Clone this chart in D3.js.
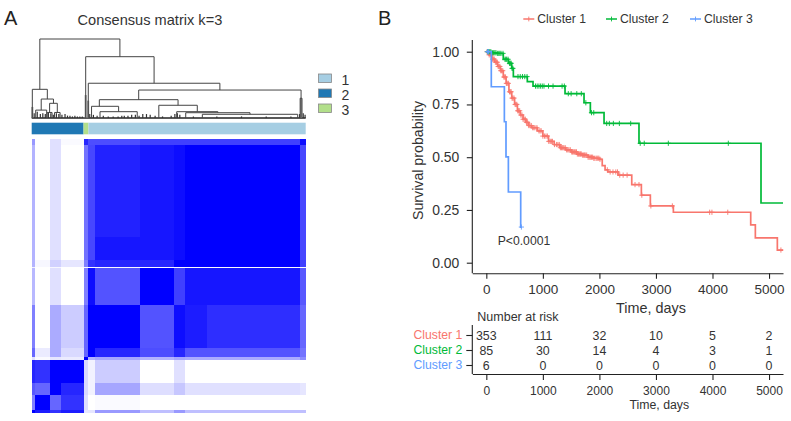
<!DOCTYPE html>
<html><head><meta charset="utf-8">
<script src="https://cdn.jsdelivr.net/npm/d3@7/dist/d3.min.js"></script>
<style>html,body{margin:0;padding:0;background:#fff}svg{display:block}text{font-family:"Liberation Sans",Arial,sans-serif;fill:#333}</style>
</head><body><svg id="c" width="791" height="421"></svg>
<script>
// ---- Consensus matrix data (sample ranks, consensus values) ----
const nSamples = 444;
const colEdges = [0,5,30,47,84,92,103,176,231,248,284,435,444];
const rowEdges = [0,10,159,196,208,210,269,339,354,358,396,415,440,444];
const consensus = [
 [.4,0,.12,.02,.85,.7,.7,.75,.75,.75,.75,.95],
 [.3,0,.12,0,.55,.72,.86,.93,.97,1,1,.72],
 [.3,0,.12,0,.55,.72,.92,.93,.97,1,1,.72],
 [.3,.03,.18,.1,.5,.8,.85,.85,1,1,1,.75],
 [.05,0,.03,0,.02,.02,.02,.02,.02,.02,.02,.02],
 [.28,0,.12,0,.5,.95,.68,1,.75,.93,.93,.65],
 [.5,0,.33,.2,.6,1,1,.68,.95,.9,.82,.6],
 [.6,.08,.33,.15,.6,1,.85,.7,.85,.68,.68,.55],
 [.12,.02,.1,.08,1,.3,.35,.3,.35,.33,.33,.45],
 [.85,.8,1,1,.15,.05,.2,0,.12,0,0,0],
 [.65,.6,1,.85,.15,.05,.35,.13,.22,.12,.12,.1],
 [.5,1,.6,.8,.12,0,.02,0,0,0,0,0],
 [1,.9,.8,.9,.1,.1,.4,.25,.4,.25,.25,.25]
];
const annotationEdges = [0,84,92,444];
const annotationClass = ["2","3","1"];
const legendClasses = ["1","2","3"];
const classColors = ["#a6cee3","#1f78b4","#b2df8a"];
// dendrogram: [height, left, right, optional drawn rank]; a number is a leaf rank
const dendrogram = [1,
  [.363, 1,
    [.24,
      [.10, 6.5, 24.3],
      [.186, [.07, 25, 33], [.07, 37, 46]]]],
  [.776, 87.5,
    [.44, 91.7,
      [.354,
        [.232,
          [.148, 97, [.08, 110.7, 171], 109.6],
          [.161, 206,
            [.08, 235,
              [.067, 249.6,
                [.047, 276.5, 431]]]]],
        [.25, 435, 438]]]]];
const lowRanks =  [4,9,14,18,22,27,31,35,40,44,49,54,58,62,66,70,74,78,82,94,100,106,116,124,132,140,146,150,156,162,168,174,180,186,192,200,212,226,232,236,240,262,300,340,380,420,434,440,443];
const lowHeights =[.06,.08,.05,.06,.05,.07,.06,.04,.06,.05,.04,.05,.03,.03,.02,.03,.02,.02,.02,.05,.04,.03,.03,.02,.02,.02,.03,.03,.03,.04,.04,.03,.05,.05,.04,.03,.02,.03,.05,.06,.04,.02,.02,.02,.02,.02,.05,.06,.04];
const denseRanks = [1,87.5,91.5,436.5];
const denseHeights = [.14,.29,.22,.25];
// ---- Survival data ----
const c1T = [0,50,100,150,200,250,300,350,400,450,500,550,600,650,700,750,800,900,1000,1100,1200,1300,1400,1500,1600,1700,1800,1900,2000,2050,2100,2150,2330,2572,2742,2901,3308,4676,4758,5147];
const c1S = [1,.985,.965,.95,.93,.91,.88,.85,.81,.78,.75,.72,.70,.68,.665,.65,.64,.625,.60,.575,.56,.545,.535,.525,.515,.51,.50,.495,.49,.46,.44,.43,.415,.37,.32,.269,.239,.179,.118,.06];
const c2T = [0,100,184,300,390,449,478,725,826,1392,1728,1840,2082,2700,4858];
const c2S = [1,.995,.992,.964,.945,.921,.882,.858,.837,.801,.758,.711,.66,.566,.283];
const c3T = [0,88,319,348,390,608];
const c3S = [1,.834,.668,.502,.335,.169];
const seriesEnd = [5247,5247,625];
const c1Censor = [15,30,50,70,90,110,125,140,160,180,195,210,225,240,255,270,290,310,325,340,355,370,390,410,425,440,455,470,490,510,525,540,555,570,590,610,630,650,670,690,710,730,750,770,795,820,840,860,895,930,950,970,1000,1030,1055,1080,1105,1130,1150,1170,1205,1240,1265,1290,1310,1330,1350,1370,1395,1420,1440,1460,1485,1510,1525,1540,1560,1580,1595,1610,1630,1650,1665,1680,1700,1720,1735,1750,1775,1800,1820,1840,1860,1880,1900,1920,1945,1970,1990,2010,2140,2190,2240,2290,2320,2360,2420,2490,2630,2700,2750,2910,3290,3950,3990,4270,5210];
const c2Censor = [20,40,60,80,105,130,150,170,195,220,240,260,295,330,345,360,385,410,425,440,455,470,560,600,640,680,720,870,900,930,960,990,1020,1100,1180,1340,1380,1450,1500,1600,1680,1760,1860,1900,2129,2176,2247,2353,2553,2722,2793,3219,4280];
const c3Censor = [20,40,620];
const seriesNames = ["Cluster 1","Cluster 2","Cluster 3"];
const seriesColors = ["#f8766d","#00ba38","#619cff"];
const xTicks = [0,1000,2000,3000,4000,5000];
const yTicks = [0,.25,.5,.75,1];
const atRisk = [[353,111,32,10,5,2],[85,30,14,4,3,1],[6,0,0,0,0,0]];

const svg = d3.select("#c");
const defs = svg.append("defs");
defs.append("filter").attr("id","soft").attr("x","-2%").attr("y","-2%").attr("width","104%").attr("height","104%")
  .append("feGaussianBlur").attr("stdDeviation",.45);
const txt = (x,y,s,size,anchor="start",fill="#333")=>svg.append("text").attr("x",x).attr("y",y).attr("font-size",size).attr("text-anchor",anchor).style("fill",fill).text(s);

// ---- Panel A ----
txt(4,25,"A",20,"start","#222");
txt(77.5,25,"Consensus matrix k=3",14.6);
const hx = d3.scaleLinear().domain([0,nSamples]).range([31.7,305.7]);
const hy = d3.scaleLinear().domain([0,nSamples]).range([139,412.7]);
const cc = d3.scaleLinear().domain([0,1]).range(["#ffffff","#0000ff"]);
const hm = svg.append("g").attr("filter","url(#soft)");
consensus.forEach((row,i)=>{
  hm.selectAll(null).data(row).join("rect")
    .attr("x",(d,j)=>hx(colEdges[j])).attr("width",(d,j)=>hx(colEdges[j+1])-hx(colEdges[j]))
    .attr("y",hy(rowEdges[i])).attr("height",hy(rowEdges[i+1])-hy(rowEdges[i]))
    .attr("fill",d=>cc(d)).attr("shape-rendering","crispEdges");
});
// annotation bar
const colorOf = d3.scaleOrdinal().domain(legendClasses).range(classColors);
svg.append("g").selectAll("rect").data(annotationClass).join("rect")
  .attr("x",(d,i)=>hx(annotationEdges[i])).attr("width",(d,i)=>hx(annotationEdges[i+1])-hx(annotationEdges[i]))
  .attr("y",122.7).attr("height",11.6).attr("fill",d=>colorOf(d));
// legend
const legY = d3.scaleBand().domain(legendClasses).range([72,117]);
legendClasses.forEach(k=>{
  const y = legY(k);
  svg.append("rect").attr("x",318.5).attr("y",y+2).attr("width",13).attr("height",8.5).attr("fill",colorOf(k)).attr("stroke","#888").attr("stroke-width",.8);
  txt(341.5,y+12.5,k,14);
});
// dendrogram
const dy = d3.scaleLinear().domain([0,1]).range([118,39]);
const root = d3.hierarchy(dendrogram,d=>Array.isArray(d)?d.slice(1,3):null);
root.eachAfter(n=>{
  if(!n.children) n.rank=n.data;
  else { n.rank = n.data[3]!==undefined? n.data[3] : (n.children[0].rank+n.children[1].rank)/2; }
  n.h = n.children? n.data[0] : 0;
});
const dg = svg.append("g").attr("fill","none").attr("stroke","#444").attr("stroke-width",1).attr("filter","url(#soft)");
dg.append("path").attr("stroke","#222").attr("stroke-width",1.6).attr("d",`M${hx(0)},${dy(0)}H${hx(nSamples)}`);
lowRanks.forEach((r,i)=>dg.append("path").attr("stroke-width",1.2).attr("stroke","#333").attr("d",`M${hx(r)},${dy(0)}V${dy(lowHeights[i])}`));
denseRanks.forEach((r,i)=>dg.append("path").attr("stroke","#888").attr("stroke-width",2).attr("d",`M${hx(r)},${dy(0)}V${dy(denseHeights[i])}`));
root.descendants().filter(n=>n.children).forEach(n=>{
  const [a,b]=n.children;
  dg.append("path").attr("d",`M${hx(a.rank)},${dy(a.h)}V${dy(n.h)}H${hx(b.rank)}V${dy(b.h)}`);
});

// ---- Panel B ----
txt(378,25,"B",20,"start","#222");
const x = d3.scaleLinear().domain([-248,5247]).range([472.3,783]);
const y = d3.scaleLinear().domain([0,1]).range([262.7,51.7]);
const series = [[c1T,c1S,c1Censor],[c2T,c2S,c2Censor],[c3T,c3S,c3Censor]];
const line = d3.line().x(d=>x(d[0])).y(d=>y(d[1])).curve(d3.curveStepAfter);
series.forEach(([T,S,C],i)=>{
  const pts = T.map((t,k)=>[t,S[k]]).concat([[seriesEnd[i],S[S.length-1]]]);
  svg.append("path").attr("d",line(pts)).attr("fill","none").attr("stroke",seriesColors[i]).attr("stroke-width",1.7);
  const at = d3.bisector(t=>t).right;
  svg.append("g").attr("stroke",seriesColors[i]).attr("stroke-width",.9).selectAll("path").data(C).join("path")
    .attr("d",t=>{const s=S[at(T,t)-1];return `M${x(t)-2.6},${y(s)}h5.2M${x(t)},${y(s)-2.6}v5.2`;});
});
// axes
const styleAxis = (g,w)=>{g.selectAll("path,line").attr("stroke","#222").attr("stroke-width",w);g.selectAll("text").attr("font-family",'"Liberation Sans"').style("fill","#333");};
const yAxis = svg.append("g").attr("transform","translate(472.3,0)").call(d3.axisLeft(d3.scaleLinear().domain(y.domain()).range(y.range())).tickValues(yTicks).tickFormat(d3.format(".2f")).tickSize(5.5).tickSizeOuter(0));
yAxis.select("path").attr("d","M0,40V273.3");
yAxis.selectAll("text").attr("font-size",13.9).attr("x",-13);
styleAxis(yAxis,1.1);
const xAxis = svg.append("g").attr("transform","translate(0,273.3)").call(d3.axisBottom(x).tickValues(xTicks).tickFormat(d3.format("d")).tickSize(5.5).tickSizeOuter(0));
xAxis.selectAll("text").attr("font-size",13.5).attr("y",11);
styleAxis(xAxis,1.1);
txt(651,312.7,"Time, days",14.4,"middle");
svg.append("text").attr("transform","translate(423,160.5) rotate(-90)").attr("text-anchor","middle").attr("font-size",14.2).text("Survival probability");
txt(497.7,245,"P<0.0001",12.2);
// legend
const legX = [523.3,606,690];
seriesNames.forEach((n,i)=>{
  svg.append("path").attr("d",`M${legX[i]},19h11`).attr("stroke",seriesColors[i]).attr("stroke-width",1.5);
  svg.append("path").attr("d",`M${legX[i]+5.5},16.6v4.8`).attr("stroke",seriesColors[i]).attr("stroke-width",.9);
  txt(legX[i]+14,23,n,12.2);
});
// risk table
txt(477.3,320.7,"Number at risk",12.5);
const ry = d3.scalePoint().domain(seriesNames).range([335,365]);
const rAxisL = svg.append("g").attr("transform","translate(472.3,0)").call(d3.axisLeft(ry).tickSize(6).tickSizeOuter(0));
rAxisL.select("path").attr("d","M0,325V374");
rAxisL.selectAll("text").attr("font-size",12.2).attr("x",-10);
styleAxis(rAxisL,1.1);
rAxisL.selectAll("text").style("fill",(d,i)=>seriesColors[i]);
const rAxisB = svg.append("g").attr("transform","translate(0,374)").call(d3.axisBottom(x).tickValues(xTicks).tickFormat(d3.format("d")).tickSize(6).tickSizeOuter(0));
rAxisB.selectAll("text").attr("font-size",12).attr("y",12);
styleAxis(rAxisB,1.1);
atRisk.forEach((row,i)=>row.forEach((v,j)=>{
  txt(x(xTicks[j]),ry(seriesNames[i])+4.5,v,12.4,"middle");
}));
txt(659.3,409,"Time, days",12.3,"middle");
</script></body></html>
